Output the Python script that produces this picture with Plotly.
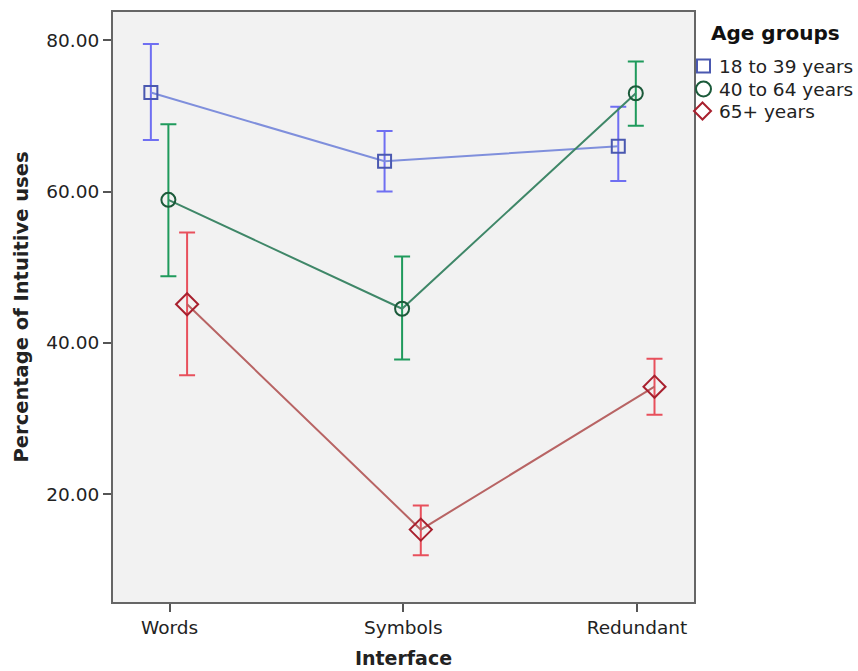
import plotly.graph_objects as go

# Interface conditions on the x axis
interfaces = ["Words", "Symbols", "Redundant"]

# Age groups shown as separate series
groups = ["18 to 39 years", "40 to 64 years", "65+ years"]

# Mean percentage of intuitive uses per interface
mean_18_39 = [73.1, 64.0, 66.0]
mean_40_64 = [58.9, 44.5, 73.0]
mean_65 = [45.1, 15.3, 34.2]

# Upper and lower ends of the error bars
upper_18_39 = [79.5, 68.0, 71.2]
lower_18_39 = [66.8, 60.0, 61.4]
upper_40_64 = [68.9, 51.4, 77.2]
lower_40_64 = [48.8, 37.8, 68.7]
upper_65 = [54.6, 18.5, 37.9]
lower_65 = [35.7, 11.9, 30.5]

y_ticks = [20, 40, 60, 80]

FONT = "DejaVu Sans"
W, H = 858, 671
ML, MR, MT, MB = 113, 164, 12, 69
PW, PH = W - ML - MR, H - MT - MB


def px_x(px):
    """Pixel column -> paper x."""
    return (px - ML) / PW


def px_y(py):
    """Pixel row (from top) -> paper y."""
    return (H - MB - py) / PH


series = [
    dict(name=groups[0], mean=mean_18_39, up=upper_18_39, lo=lower_18_39,
         dodge=-0.08, symbol="square-open", size=13,
         line="#7f8fdc", err="#6f6ff2", edge="#4a58b0"),
    dict(name=groups[1], mean=mean_40_64, up=upper_40_64, lo=lower_40_64,
         dodge=-0.005, symbol="circle-open", size=14,
         line="#3f8768", err="#1f9a5c", edge="#1b5a3a"),
    dict(name=groups[2], mean=mean_65, up=upper_65, lo=lower_65,
         dodge=0.075, symbol="diamond-open", size=17,
         line="#b86464", err="#e8505c", edge="#a8202e"),
]

fig = go.Figure()

for s in series:
    xs = [i + s["dodge"] for i in range(len(interfaces))]
    fig.add_trace(go.Scatter(
        x=xs, y=s["mean"], mode="lines",
        line=dict(color=s["line"], width=2),
        error_y=dict(type="data", symmetric=False,
                     array=[u - m for u, m in zip(s["up"], s["mean"])],
                     arrayminus=[m - l for m, l in zip(s["mean"], s["lo"])],
                     color=s["err"], thickness=2, width=8),
        showlegend=False, hoverinfo="skip",
    ))
    fig.add_trace(go.Scatter(
        x=xs, y=s["mean"], mode="markers", name=s["name"],
        marker=dict(symbol=s["symbol"], size=s["size"],
                    line=dict(color=s["edge"], width=2), color=s["edge"]),
        showlegend=False,
    ))

# Legend box drawn in the right margin: title, symbols and labels
annotations = [dict(
    text="<b>Age groups</b>", xref="paper", yref="paper",
    x=px_x(709), y=px_y(33), xanchor="left", yanchor="middle",
    showarrow=False, font=dict(family=FONT, size=20, color="#111111"),
)]
shapes = []
legend_rows = [66, 89, 111]
sym_x = 703.5
for s, row in zip(series, legend_rows):
    annotations.append(dict(
        text=s["name"], xref="paper", yref="paper",
        x=px_x(717), y=px_y(row), xanchor="left", yanchor="middle",
        showarrow=False, font=dict(family=FONT, size=18.5, color="#222222"),
    ))
    style = dict(xref="paper", yref="paper",
                 line=dict(color=s["edge"], width=2),
                 fillcolor="rgba(0,0,0,0)")
    if s["symbol"].startswith("square"):
        h = 6.5
        shapes.append(dict(type="rect", x0=px_x(sym_x - h), x1=px_x(sym_x + h),
                           y0=px_y(row + h), y1=px_y(row - h), **style))
    elif s["symbol"].startswith("circle"):
        h = 7.5
        shapes.append(dict(type="circle", x0=px_x(sym_x - h), x1=px_x(sym_x + h),
                           y0=px_y(row + h), y1=px_y(row - h), **style))
    else:
        h = 8.5
        cx = sym_x - 1
        path = (f"M {px_x(cx)} {px_y(row - h)} L {px_x(cx + h)} {px_y(row)} "
                f"L {px_x(cx)} {px_y(row + h)} L {px_x(cx - h)} {px_y(row)} Z")
        shapes.append(dict(type="path", path=path, **style))

fig.update_layout(
    width=W, height=H,
    margin=dict(l=ML, r=MR, t=MT, b=MB, autoexpand=False),
    paper_bgcolor="white",
    plot_bgcolor="#f2f2f2",
    font=dict(family=FONT, size=18.5, color="#222222"),
    showlegend=False,
    annotations=annotations,
    shapes=shapes,
    xaxis=dict(
        range=[-0.242, 2.244],
        tickmode="array", tickvals=list(range(len(interfaces))),
        ticktext=interfaces,
        ticks="outside", ticklen=8, tickcolor="#555555", tickwidth=1.5,
        showgrid=False, zeroline=False,
        showline=True, linecolor="#666666", linewidth=2, mirror=True,
        title=dict(text="<b>Interface</b>", standoff=14,
                   font=dict(size=19, color="#222222")),
    ),
    yaxis=dict(
        range=[5.73, 83.74],
        tickmode="array", tickvals=y_ticks,
        ticktext=[f"{v:.2f}" for v in y_ticks],
        ticks="outside", ticklen=8, tickcolor="#555555", tickwidth=1.5,
        showgrid=False, zeroline=False,
        showline=True, linecolor="#666666", linewidth=2, mirror=True,
        title=dict(text="<b>Percentage of Intuitive uses</b>", standoff=13,
                   font=dict(size=19.5, color="#222222")),
    ),
)

fig.write_html("out.html")
